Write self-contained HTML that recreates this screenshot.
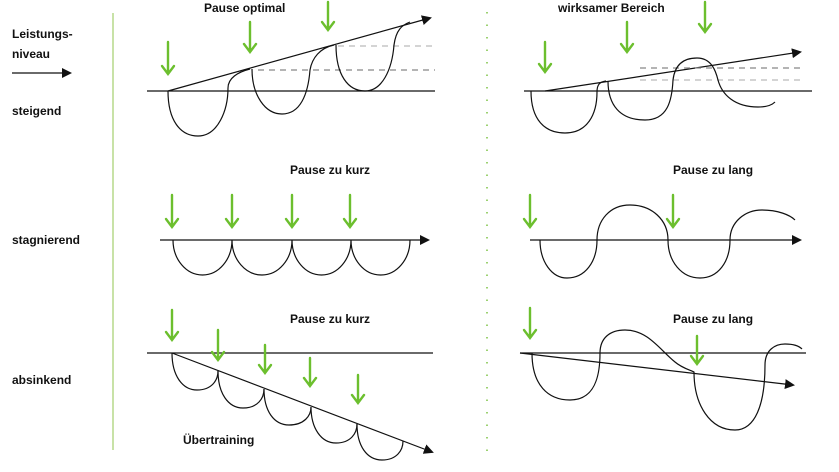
<!DOCTYPE html>
<html><head><meta charset="utf-8"><style>
html,body{margin:0;padding:0;background:#fff;}
svg{display:block}
text{font-family:"Liberation Sans",sans-serif;font-weight:bold;font-size:12px;fill:#111}
</style></head><body>
<svg width="839" height="472" viewBox="0 0 839 472" xmlns="http://www.w3.org/2000/svg">
<defs>
<marker id="ah" markerWidth="10" markerHeight="10" refX="8" refY="5" orient="auto" markerUnits="userSpaceOnUse">
<path d="M0,0 L10,5 L0,10 Z" fill="#111"/></marker>
<marker id="ga" markerWidth="14" markerHeight="12" refX="7" refY="10" orient="auto" markerUnits="userSpaceOnUse">
</marker>
</defs>
<g stroke="#111" stroke-width="1.3" fill="none">
<!-- left labels -->
<line x1="12" y1="73" x2="70" y2="73" marker-end="url(#ah)"/>
</g>
<text x="12" y="38">Leistungs-</text>
<text x="12" y="58">niveau</text>
<text x="12" y="115">steigend</text>
<text x="12" y="244">stagnierend</text>
<text x="12" y="384">absinkend</text>
<line x1="113" y1="13" x2="113" y2="450" stroke="#b5d98a" stroke-width="1.5"/>
<line x1="487" y1="12" x2="487" y2="460" stroke="#7cc242" stroke-width="1.5" stroke-dasharray="1.5,11"/>

<text x="204" y="12">Pause optimal</text>
<text x="558" y="12">wirksamer Bereich</text>
<text x="290" y="174">Pause zu kurz</text>
<text x="673" y="174">Pause zu lang</text>
<text x="290" y="323">Pause zu kurz</text>
<text x="673" y="323">Pause zu lang</text>
<text x="183" y="444">Übertraining</text>

<g stroke="#111" stroke-width="1.2" fill="none">
<!-- row1 left -->
<line x1="147" y1="91" x2="435" y2="91"/>
<line x1="168" y1="91" x2="430" y2="18" marker-end="url(#ah)"/>
<line x1="258" y1="70" x2="435" y2="70" stroke="#888" stroke-dasharray="6,5"/>
<line x1="338" y1="46" x2="435" y2="46" stroke="#bbb" stroke-dasharray="6,5"/>
<path d="M168,91 C168,120 180,136 198,136 C218,136 228,110 228,88 C228,78 238,72 250,69"/>
<path d="M252,69 C252,95 265,114 282,114 C300,114 308,95 310,70 C312,58 320,48 334,45"/>
<path d="M336,45 C336,75 348,91 365,91 C382,91 392,70 394,45 C396,30 402,25 410,22"/>
<!-- row1 right -->
<line x1="524" y1="91" x2="812" y2="91"/>
<line x1="545" y1="91" x2="800" y2="52" marker-end="url(#ah)"/>
<line x1="640" y1="68" x2="800" y2="68" stroke="#888" stroke-dasharray="6,5"/>
<line x1="640" y1="80" x2="800" y2="80" stroke="#bbb" stroke-dasharray="6,5"/>
<path d="M531,91 C531,120 545,133 565,133 C587,133 597,115 597,92 C597,84 600,82 606,81"/>
<path d="M608,81 C608,105 620,120 645,120 C668,120 672,100 673,80 C675,63 685,58 697,58 C712,58 716,72 718,80 C722,95 735,107 758,107 C768,107 773,104 775,102"/>
<!-- row2 left -->
<line x1="160" y1="240" x2="428" y2="240" marker-end="url(#ah)"/>
<path d="M173,240 A29.5,35 0 0 0 232,240 A30,35 0 0 0 292,240 A29.5,35 0 0 0 351,240 A29.5,35 0 0 0 410,240"/>
<!-- row2 right -->
<line x1="530" y1="240" x2="800" y2="240" marker-end="url(#ah)"/>
<path d="M540,240 C540,262 552,278 567,278 C585,278 597,262 597,240 C597,220 610,205 630,205 C652,205 668,220 668,240 C668,262 682,278 700,278 C718,278 730,262 730,240 C730,222 745,210 762,210 C778,210 790,215 795,220"/>
<!-- row3 left -->
<line x1="147" y1="353" x2="433" y2="353"/>
<line x1="172" y1="353" x2="432" y2="452" marker-end="url(#ah)"/>
<path d="M172,353 C172,375 182,390 197,390 C212,390 218,380 218,371"/>
<path d="M218,371 C218,393 228,408 243,408 C258,408 264,398 264,389"/>
<path d="M264,389 C264,411 274,425 289,425 C304,425 311,416 311,407"/>
<path d="M311,407 C311,428 321,443 336,443 C351,443 357,433 357,424"/>
<path d="M357,424 C357,446 367,460 382,460 C397,460 403,450 403,441"/>
<!-- row3 right -->
<line x1="520" y1="353" x2="806" y2="353"/>
<line x1="520" y1="353" x2="793" y2="385" marker-end="url(#ah)"/>
<path d="M532,353 C532,385 548,400 570,400 C590,400 600,385 600,353 C600,338 610,330 625,330 C648,330 660,350 675,362 C682,368 690,370 694,372 C694,405 710,430 735,430 C755,430 765,405 765,365 C765,350 775,344 785,344 C795,344 800,347 802,349"/>
</g>
<!-- green arrows -->
<g stroke="#6cbf2e" stroke-width="2.4" fill="none" stroke-linecap="round">
<path d="M168,42 V74 M162,66 L168,74 L174,66"/>
<path d="M250,22 V52 M244,44 L250,52 L256,44"/>
<path d="M328,2 V30 M322,22 L328,30 L334,22"/>
<path d="M545,42 V72 M539,64 L545,72 L551,64"/>
<path d="M627,22 V52 M621,44 L627,52 L633,44"/>
<path d="M705,2 V32 M699,24 L705,32 L711,24"/>
<path d="M172,195 V227 M166,219 L172,227 L178,219"/>
<path d="M232,195 V227 M226,219 L232,227 L238,219"/>
<path d="M292,195 V227 M286,219 L292,227 L298,219"/>
<path d="M350,195 V227 M344,219 L350,227 L356,219"/>
<path d="M530,195 V227 M524,219 L530,227 L536,219"/>
<path d="M673,195 V227 M667,219 L673,227 L679,219"/>
<path d="M172,310 V340 M166,332 L172,340 L178,332"/>
<path d="M218,330 V360 M212,352 L218,360 L224,352"/>
<path d="M265,345 V373 M259,365 L265,373 L271,365"/>
<path d="M310,358 V386 M304,378 L310,386 L316,378"/>
<path d="M358,375 V403 M352,395 L358,403 L364,395"/>
<path d="M530,308 V338 M524,330 L530,338 L536,330"/>
<path d="M697,336 V364 M691,356 L697,364 L703,356"/>
</g>
</svg>
</body></html>
